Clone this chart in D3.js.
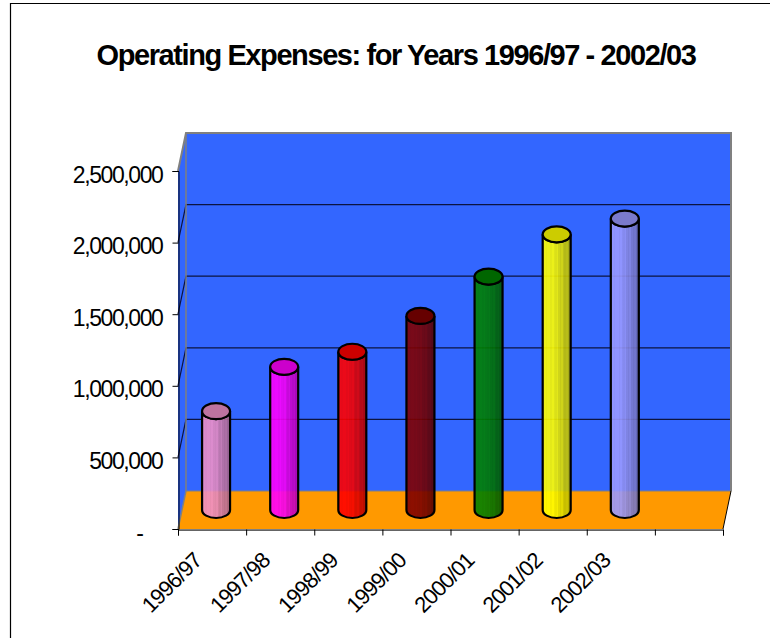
<!DOCTYPE html>
<html>
<head>
<meta charset="utf-8">
<style>
html,body{margin:0;padding:0;background:#fff;}
svg{display:block;}
text{font-family:"Liberation Sans",Arial,sans-serif;fill:#000;}
</style>
<script src="https://cdn.jsdelivr.net/npm/d3@7"></script>
</head>
<body>
<svg id="chart" width="770" height="638"></svg>
<script>
const years = ["1996/97","1997/98","1998/99","1999/00","2000/01","2001/02","2002/03"];
const expenses = [690000,1000000,1105000,1355000,1630000,1925000,2035000];
const barColors = ["#ee90c8","#ff00ff","#ff0000","#800000","#008000","#ffff00","#9999ff"];
const yTicks = [0,500000,1000000,1500000,2000000,2500000];
const gridVals = [500000,1000000,1500000,2000000];
const chartTitle = "Operating Expenses: for Years 1996/97 - 2002/03";

// Front plane of the pseudo-3D box, and the shift to its back wall.
const left = 178, right = 723, floorY = 529, topY = 171;
const depthX = 8, depthY = -38;

const svg = d3.select("#chart");
const y = d3.scaleLinear().domain([0,2500000]).range([floorY,topY]);
const x = d3.scaleBand().domain(d3.range(8)).range([left,right]);
const line = d3.line();

svg.append("path")
  .attr("d", line([[10.5,638],[10.5,3.5],[770,3.5]]))
  .attr("fill","none").attr("stroke","#000").attr("stroke-width",1.2);

svg.append("text").attr("x",396).attr("y",65)
  .attr("text-anchor","middle").attr("font-size",29).attr("font-weight",700)
  .attr("letter-spacing",-1.41).text(chartTitle);

// Side wall, floor and back wall
const backL = left+depthX, backR = right+depthX;
svg.append("path")
  .attr("d", line([[left,floorY],[left,topY],[backL,topY+depthY],[backL,floorY+depthY]])+"Z")
  .attr("fill","#3366ff");
svg.append("rect")
  .attr("x",backL).attr("y",topY+depthY).attr("width",right-left).attr("height",floorY-topY)
  .attr("fill","#3366ff");
svg.append("path")
  .attr("d", line([[left,floorY],[backL,floorY+depthY],[backR,floorY+depthY],[right,floorY]])+"Z")
  .attr("fill","#ff9900");

// Gridlines run along the side wall and across the back wall
gridVals.forEach(v=>{
  svg.append("path")
    .attr("d", line([[left,y(v)],[backL,y(v)+depthY],[backR,y(v)+depthY]]))
    .attr("fill","none").attr("stroke","#0c1440").attr("stroke-width",1.2);
});

// Wall outline in grey
svg.append("path")
  .attr("d", line([[left,topY],[backL,topY+depthY],[backR,topY+depthY],[backR,floorY+depthY]]))
  .attr("fill","none").attr("stroke","#808080").attr("stroke-width",2);
svg.append("path")
  .attr("d", line([[backL,topY+depthY],[backL,floorY+depthY],[left,floorY]]))
  .attr("fill","none").attr("stroke","#808080").attr("stroke-width",1.5);
svg.append("line")
  .attr("x1",backL).attr("x2",backR).attr("y1",floorY+depthY).attr("y2",floorY+depthY)
  .attr("stroke","#808080").attr("stroke-width",1);

// Front edges and axes
svg.append("line").attr("x1",left).attr("x2",right).attr("y1",floorY+1.5).attr("y2",floorY+1.5)
  .attr("stroke","#c8c8c8").attr("stroke-width",1);
const yAxis = d3.axisLeft(y).tickValues(yTicks).tickSize(6).tickPadding(10)
  .tickFormat(d=> d===0 ? "-" : d3.format(",")(d));
const gy = svg.append("g").attr("transform",`translate(${left+0.5},0)`).call(yAxis);
gy.select(".domain").attr("stroke","#000").attr("stroke-width",1);
gy.selectAll("line").attr("stroke","#000");
gy.selectAll("text").attr("font-size",23).attr("letter-spacing",-1.4).attr("dy","0.48em")
  .style("font-family",'"Liberation Sans",Arial,sans-serif').attr("fill","#000");
// The accounting-style zero dash sits well left of the digits' right edge
gy.selectAll(".tick").filter(d=>d===0).select("text").attr("dx",-20);

svg.append("line").attr("x1",right).attr("x2",backR).attr("y1",floorY).attr("y2",floorY+depthY)
  .attr("stroke","#000").attr("stroke-width",1);

const xEdge = d3.axisBottom(d3.scaleLinear().domain([0,8]).range([left,right]))
  .tickValues(d3.range(9)).tickSize(6).tickFormat("");
const gx = svg.append("g").attr("transform",`translate(0,${floorY+0.5})`).call(xEdge);
gx.select(".domain").attr("stroke","#000");
gx.selectAll("line").attr("stroke","#000");

years.forEach((label,i)=>{
  const cx = x(i)+x.bandwidth()/2;
  svg.append("text")
    .attr("transform",`translate(${cx-9},${floorY+33}) rotate(-45)`)
    .attr("text-anchor","end").attr("font-size",22).attr("letter-spacing",-0.85)
    .text(label);
});

// Cylinders: translucent body with stepped vertical bands, a flat cap, black outline
const defs = svg.append("defs");
const rx = 14, ry = 8;
const bands = [0.96,1,0.98,1,1,0.97,1,0.95,0.93,0.96,0.88,0.84,0.88,0.8,0.76,0.78,0.7,0.66];

years.forEach((label,i)=>{
  const base = d3.rgb(barColors[i]);
  const grad = defs.append("linearGradient").attr("id","cyl"+i);
  bands.forEach((k,j)=>{
    const c = d3.rgb(base.r*k,base.g*k,base.b*k).formatHex();
    grad.append("stop").attr("offset",j/bands.length).attr("stop-color",c);
    grad.append("stop").attr("offset",(j+1)/bands.length).attr("stop-color",c);
  });
  const cx = x(i)+x.bandwidth()/2 + depthX/2;
  const yBase = floorY + depthY/2;
  const yTop = y(expenses[i]) + depthY/2;
  const body = `M${cx-rx},${yTop}L${cx-rx},${yBase}A${rx},${ry} 0 0 0 ${cx+rx},${yBase}L${cx+rx},${yTop}A${rx},${ry} 0 0 1 ${cx-rx},${yTop}Z`;
  svg.append("path").attr("d",body).attr("fill",`url(#cyl${i})`).attr("fill-opacity",0.9)
    .attr("stroke","#000").attr("stroke-width",2.2);
  svg.append("ellipse").attr("cx",cx).attr("cy",yTop).attr("rx",rx).attr("ry",ry)
    .attr("fill",d3.rgb(base.r*0.8,base.g*0.8,base.b*0.8).formatHex())
    .attr("stroke","#000").attr("stroke-width",2.2);
});
</script>
</body>
</html>
